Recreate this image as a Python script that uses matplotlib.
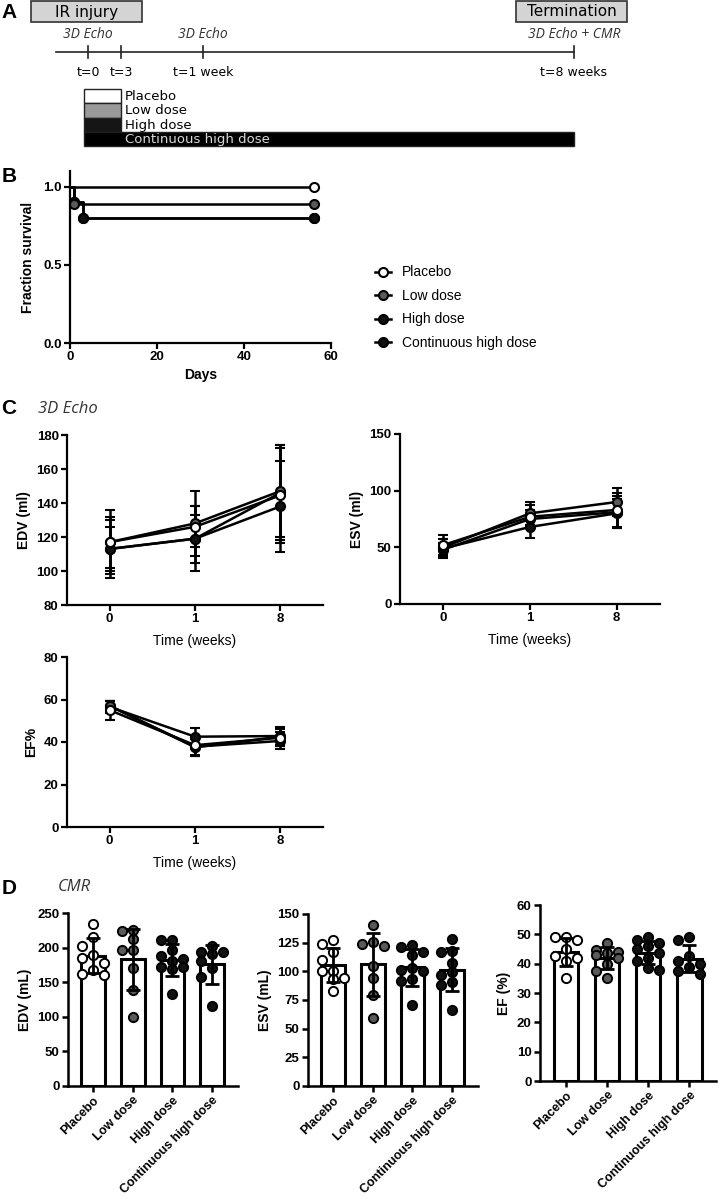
import numpy as np
import matplotlib
matplotlib.use('Agg')
import matplotlib.pyplot as plt
from matplotlib.patches import Rectangle
from matplotlib.lines import Line2D

W, H = 718, 1198
plt.rcParams['font.family'] = ['Liberation Sans', 'DejaVu Sans']
plt.rcParams['font.weight'] = 'bold'

# ---------------- data ----------------
groups = ['Placebo', 'Low dose', 'High dose', 'Continuous high dose']
marker_face = ['white', '#5a5a5a', '#111111', '#111111']

# A: study timeline
events = ['t=0', 't=3', 't=1 week', 't=8 weeks']
echo_labels = ['3D Echo', '', '3D Echo', '3D Echo + CMR']

# B: survival
surv_days = [[0, 56], [0, 1, 56], [0, 1, 3, 56], [0, 1, 3, 56]]
surv_frac = [[1.0, 1.0], [1.0, 0.889, 0.889],
             [1.0, 0.9, 0.8, 0.8], [1.0, 0.9, 0.8, 0.8]]

# C: 3D echo, mean and SD per group at 0, 1, 8 weeks
echo_weeks = ['0', '1', '8']
edv_mean = [[117, 126, 144.5], [117, 128, 147], [113, 119, 146], [113, 119, 138]]
edv_sd = [[19, 12, 28], [15, 19, 27], [17, 19, 28], [13, 14, 27]]
esv_mean = [[52, 77, 83], [50, 80, 90], [48, 75, 81], [49, 68, 80]]
esv_sd = [[9, 10, 15], [7, 10, 12], [6, 8, 14], [8, 10, 13]]
ef_mean = [[55, 38.5, 42], [57, 37.5, 42.5], [56.5, 42.5, 42.8], [57, 37.8, 40.5]]
ef_sd = [[4.5, 5, 4], [2.5, 4, 4.5], [3, 4, 4], [2.5, 4, 4]]

# D: CMR individual animals
cmr_edv = [[234, 216, 203, 190, 185, 178, 168, 162, 160],
           [226, 224, 212, 197, 196, 170, 139, 100],
           [211, 211, 197, 188, 184, 181, 172, 172, 169, 133],
           [203, 194, 194, 191, 181, 170, 158, 115]]
cmr_esv = [[127, 124, 117, 110, 100, 100, 94, 93, 83],
           [140, 126, 124, 122, 105, 94, 79, 59],
           [123, 121, 117, 114, 103, 101, 100, 93, 92, 71],
           [128, 118, 117, 107, 99, 97, 91, 88, 66]]
cmr_ef = [[49, 49, 48, 45, 42.5, 42, 41, 35],
          [47, 44.5, 44, 43.5, 43, 42, 40, 37.5, 35],
          [49, 48, 47, 46, 45, 43.5, 42, 41, 38.5, 38],
          [49, 48, 42.5, 41, 40, 39, 37.5, 36.5]]


def px_axes(x0, y0, x1, y1):
    return fig.add_axes([x0 / W, 1 - y1 / H, (x1 - x0) / W, (y1 - y0) / H])


def style(ax, lw=1.6):
    for s in ['top', 'right']:
        ax.spines[s].set_visible(False)
    for s in ['left', 'bottom']:
        ax.spines[s].set_linewidth(lw)
    ax.tick_params(width=lw, length=4, labelsize=9.5, pad=2)
    for t in ax.get_xticklabels() + ax.get_yticklabels():
        t.set_fontweight('bold')


fig = plt.figure(figsize=(W / 100, H / 100), dpi=100)

# ---------------- A ----------------
ax_a = px_axes(0, 0, W, 150)
ax_a.set_xlim(0, W)
ax_a.set_ylim(150, 0)
ax_a.axis('off')
event_x = [88, 121, 203, 574]
cond = ['Liberation Sans Narrow', 'DejaVu Sans']
ax_a.text(9, 13, 'A', fontsize=15, fontweight='bold', ha='center', va='center')
for x0, x1, lab in [(31, 142, 'IR injury'), (516, 627, 'Termination')]:
    ax_a.add_patch(Rectangle((x0, 1), x1 - x0, 21, facecolor='#d4d4d4',
                             edgecolor='#333333', lw=1.2))
    ax_a.text((x0 + x1) / 2, 12, lab, fontsize=11, fontweight='normal',
              family=cond, ha='center', va='center')
ax_a.plot([56, event_x[-1]], [52, 52], color='#222222', lw=1.2)
for x, ev, ec in zip(event_x, events, echo_labels):
    ax_a.plot([x, x], [46, 58], color='#222222', lw=1.2)
    ax_a.text(x, 72, ev, fontsize=9, fontweight='normal', family=cond,
              ha='center', va='center')
    if ec:
        ax_a.text(x, 34, ec, fontsize=10, fontweight='normal', style='italic',
                  family=['Open Sans', 'DejaVu Sans'], color='#333333',
                  ha='center', va='center')
row_colors = ['white', '#9a9a9a', '#151515', '#000000']
row_text = ['black', 'black', 'black', '#d8d8d8']
for i, g in enumerate(groups):
    y0 = 89 + i * 14.3
    x1 = event_x[3] if i == 3 else event_x[1]
    ax_a.add_patch(Rectangle((event_x[0] - 4, y0), x1 - event_x[0] + 4, 14.3,
                             facecolor=row_colors[i], edgecolor='#222222', lw=1))
    ax_a.text(event_x[1] + 4, y0 + 7.5, g, fontsize=9.5, fontweight='normal',
              family=cond, color=row_text[i], ha='left', va='center')

# ---------------- B ----------------
ax_b = px_axes(70, 171, 331, 343)
for i in [3, 2, 1, 0]:
    ax_b.step(surv_days[i], surv_frac[i], where='post', color='black', lw=1.8,
              zorder=2)
    ax_b.plot(surv_days[i][1:], surv_frac[i][1:], 'o', ms=6.5,
              mfc=marker_face[i], mec='black', mew=1.5, zorder=3)
ax_b.set_xlim(0, 60)
ax_b.set_ylim(0, 1.1)
ax_b.set_xticks([0, 20, 40, 60])
ax_b.set_yticks([0, 0.5, 1.0])
ax_b.set_yticklabels(['0.0', '0.5', '1.0'])
ax_b.set_xlabel('Days', fontsize=10, fontweight='bold', labelpad=3)
ax_b.set_ylabel('Fraction survival', fontsize=10, fontweight='bold', labelpad=6)
style(ax_b)
handles = [Line2D([], [], color='black', lw=1.8, marker='o', ms=6.5,
                  mfc=marker_face[i], mec='black', mew=1.5) for i in range(4)]
fig.legend(handles, groups, loc='upper left',
           bbox_to_anchor=(362 / W, 1 - 253 / H), frameon=False,
           handlelength=1.2, handletextpad=0.8, labelspacing=0.68,
           prop={'size': 10, 'weight': 'normal'})
fig.text(9 / W, 1 - 176 / H, 'B', fontsize=15, fontweight='bold',
         ha='center', va='center')

# ---------------- C ----------------
fig.text(9 / W, 1 - 409 / H, 'C', fontsize=15, fontweight='bold',
         ha='center', va='center')
fig.text(38 / W, 1 - 409 / H, '3D Echo', fontsize=12, fontweight='normal',
         style='italic', family=['Open Sans', 'DejaVu Sans'], color='#333333',
         ha='left', va='center')


def echo_panel(ax, means, sds, ylim, yticks, ylabel):
    x = np.arange(len(echo_weeks))
    for i in [3, 2, 1, 0]:
        ax.errorbar(x, means[i], yerr=sds[i], color='black', lw=1.8,
                    elinewidth=1.8, capsize=3.5, capthick=1.8, marker='o',
                    ms=6.5, mfc=marker_face[i], mec='black', mew=1.5)
    ax.set_xlim(-0.5, 2.5)
    ax.set_ylim(*ylim)
    ax.set_yticks(yticks)
    ax.set_xticks(x)
    ax.set_xticklabels(echo_weeks)
    ax.set_xlabel('Time (weeks)', fontsize=10, fontweight='normal', labelpad=6)
    ax.set_ylabel(ylabel, fontsize=10, fontweight='bold', labelpad=4)
    style(ax)


ax_c1 = px_axes(67, 435, 323, 605)
echo_panel(ax_c1, edv_mean, edv_sd, (80, 180), range(80, 181, 20), 'EDV (ml)')
ax_c2 = px_axes(400, 434, 660, 604)
echo_panel(ax_c2, esv_mean, esv_sd, (0, 150), [0, 50, 100, 150], 'ESV (ml)')
ax_c3 = px_axes(67, 657, 323, 827)
echo_panel(ax_c3, ef_mean, ef_sd, (0, 80), range(0, 81, 20), 'EF%')

# ---------------- D ----------------
fig.text(9 / W, 1 - 888 / H, 'D', fontsize=15, fontweight='bold',
         ha='center', va='center')
fig.text(58 / W, 1 - 887 / H, 'CMR', fontsize=12, fontweight='normal',
         style='italic', family=['Open Sans', 'DejaVu Sans'], color='#333333',
         ha='left', va='center')


def swarm(vals, px_x, px_y, diam=9.0, step=11.0):
    # three columns per bar, pick the least crowded one
    placed = []
    offs = []
    for v in vals:
        best, best_ov = 0.0, None
        for k in [0, -1, 1]:
            dx = k * step
            ov = sum(max(0.0, diam - np.hypot(dx - px, (v - pv) * px_y))
                     for px, pv in placed)
            if best_ov is None or ov < best_ov - 1e-9:
                best, best_ov = dx, ov
            if ov == 0:
                break
        placed.append((best, v))
        offs.append(best / px_x)
    return np.array(offs)


def cmr_panel(ax, data, ylim, yticks, ylabel, axw_px, axh_px):
    x = np.arange(len(groups))
    xlim = (-0.63, 3.65)
    px_x = axw_px / (xlim[1] - xlim[0])
    px_y = axh_px / (ylim[1] - ylim[0])
    means = [np.mean(d) for d in data]
    sds = [np.std(d, ddof=1) for d in data]
    ax.bar(x, means, width=0.6, color='white', edgecolor='black', lw=2.2,
           zorder=1)
    for i, d in enumerate(data):
        offs = swarm(d, px_x, px_y)
        ax.scatter(i + offs, d, s=44, c=marker_face[i], edgecolors='black',
                   linewidths=1.4, zorder=3)
    ax.errorbar(x, means, yerr=sds, fmt='none', ecolor='black', elinewidth=2,
                capsize=5, capthick=2, zorder=4)
    ax.set_xlim(*xlim)
    ax.set_ylim(*ylim)
    ax.set_yticks(yticks)
    ax.set_xticks(x)
    ax.set_xticklabels(groups, rotation=45, ha='right', va='top',
                       rotation_mode='anchor')
    ax.set_ylabel(ylabel, fontsize=10, fontweight='bold', labelpad=4)
    style(ax, lw=1.8)
    ax.tick_params(axis='x', labelsize=9, pad=2)


ax_d1 = px_axes(68, 913, 238, 1086)
cmr_panel(ax_d1, cmr_edv, (0, 250), range(0, 251, 50), 'EDV (mL)', 170, 173)
ax_d2 = px_axes(308, 914, 478, 1086)
cmr_panel(ax_d2, cmr_esv, (0, 150), range(0, 151, 25), 'ESV (mL)', 170, 172)
ax_d3 = px_axes(540, 905, 716, 1081)
cmr_panel(ax_d3, cmr_ef, (0, 60), range(0, 61, 10), 'EF (%)', 176, 176)

fig.savefig('out.png', dpi=100)
